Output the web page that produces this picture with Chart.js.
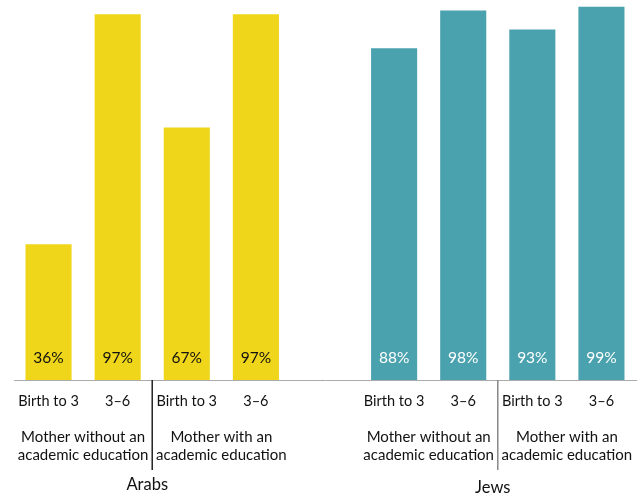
<!DOCTYPE html>
<html>
<head>
<meta charset="utf-8">
<script src="https://cdn.jsdelivr.net/npm/chart.js@4/dist/chart.umd.min.js"></script>
<style>
  html, body { margin: 0; padding: 0; background: #fff; }
  #wrap { width: 642px; height: 497px; position: relative; }
</style>
</head>
<body>
<div id="wrap"><canvas id="c" width="642" height="497"></canvas></div>
<script>
// ---- data ----
const ageLabels = ["Birth to 3", "3–6", "Birth to 3", "3–6", "", "Birth to 3", "3–6", "Birth to 3", "3–6"];
const arabsValues = [36, 97, 67, 97];
const jewsValues = [88, 98, 93, 99];
const educationLabels = [["Mother without an", "academic education"], ["Mother with an", "academic education"]];
const populationLabels = ["Arabs", "Jews"];

const YELLOW = "#EFD61A";
const TEAL = "#4AA2AE";
const FONT = "Lato, 'Open Sans', sans-serif";

const values = [...arabsValues, null, ...jewsValues];
const colors = [...arabsValues.map(() => YELLOW), "rgba(0,0,0,0)", ...jewsValues.map(() => TEAL)];
const labelColors = [...arabsValues.map(() => "#111"), "#000", ...jewsValues.map(() => "#fff")];

const annotatePlugin = {
  id: "annotate",
  afterDatasetsDraw(chart) {
    const ctx = chart.ctx;
    const meta = chart.getDatasetMeta(0);
    const x = chart.scales.x;
    const bottom = chart.chartArea.bottom;
    ctx.save();
    // value labels inside bars
    ctx.font = "15.5px " + FONT;
    ctx.textAlign = "center";
    ctx.textBaseline = "middle";
    meta.data.forEach((bar, i) => {
      const v = values[i];
      if (v == null) return;
      ctx.fillStyle = labelColors[i];
      ctx.fillText(v + "%", bar.x, bottom - 22);
    });
    // groups
    const groups = [
      { start: 0, pop: 0, sepColor: "#222" },
      { start: 5, pop: 1, sepColor: "#888" }
    ];
    groups.forEach(g => {
      const p = i => x.getPixelForValue(i);
      const sep = (p(g.start + 1) + p(g.start + 2)) / 2;
      ctx.strokeStyle = g.sepColor;
      ctx.lineWidth = 1.5;
      ctx.beginPath();
      ctx.moveTo(sep, bottom);
      ctx.lineTo(sep, bottom + 90);
      ctx.stroke();
      ctx.font = "15px " + FONT;
      ctx.fillStyle = "#111";
      ctx.textBaseline = "middle";
      [0, 1].forEach(k => {
        const cx = (p(g.start + 2 * k) + p(g.start + 2 * k + 1)) / 2;
        educationLabels[k].forEach((line, li) => {
          ctx.fillText(line, cx, bottom + 57 + li * 18.5);
        });
      });
      ctx.font = "16.5px " + FONT;
      ctx.fillText(populationLabels[g.pop], sep - 5, bottom + 105 + g.pop * 3);
    });
    ctx.restore();
  }
};

new Chart(document.getElementById("c"), {
  type: "bar",
  data: {
    labels: ageLabels,
    datasets: [{
      data: values,
      backgroundColor: colors,
      borderWidth: 0,
      barPercentage: 0.667,
      categoryPercentage: 1.0
    }]
  },
  options: {
    responsive: false,
    animation: false,
    devicePixelRatio: 1,
    layout: { padding: { left: 14, right: 6, top: 3, bottom: 0 } },
    plugins: { legend: { display: false }, tooltip: { enabled: false } },
    scales: {
      y: { display: false, min: 0, max: 100 },
      x: {
        grid: { display: false, drawTicks: false },
        border: { display: true, color: "#aaa", width: 1 },
        ticks: {
          color: "#111",
          font: { family: FONT, size: 14.5 },
          padding: 13,
          maxRotation: 0,
          autoSkip: false
        },
        afterFit(scale) { scale.height = 117; }
      }
    }
  },
  plugins: [annotatePlugin]
});
</script>
</body>
</html>
